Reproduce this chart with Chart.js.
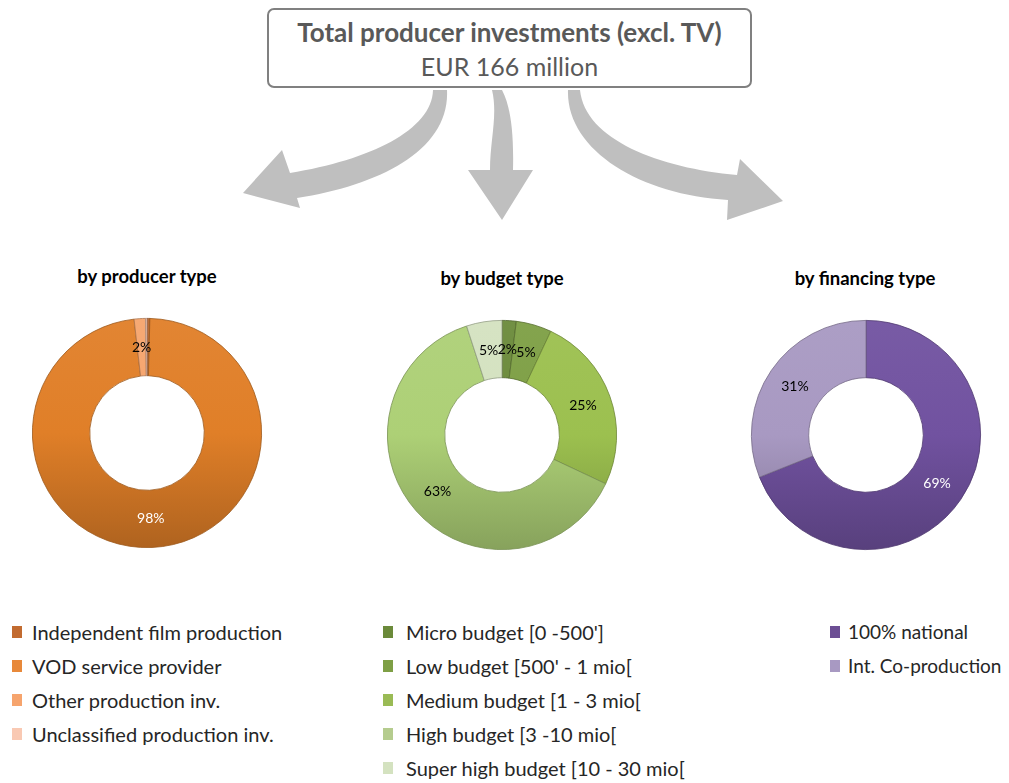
<!DOCTYPE html>
<html><head><meta charset="utf-8">
<script src="https://cdn.jsdelivr.net/npm/chart.js@4.4.0/dist/chart.umd.min.js"></script>
<style>
html,body{margin:0;padding:0;background:#fff;}
body{width:1009px;height:783px;overflow:hidden;position:relative;font-family:Lato,'Open Sans',sans-serif;}
#box{position:absolute;left:267px;top:8px;width:481px;height:76px;border:2px solid #808080;border-radius:7px;text-align:center;color:#595959;}
#box .t1{position:absolute;left:0;right:0;top:7px;font-weight:bold;font-size:26px;line-height:30px;}
#box .t2{position:absolute;left:0;right:0;top:41px;font-size:25px;line-height:30px;}
svg{position:absolute;left:0;top:0;}
canvas{position:absolute;}
.ctitle{position:absolute;width:300px;text-align:center;font-weight:bold;font-size:18.5px;color:#000;line-height:22px;}
.li{position:absolute;white-space:nowrap;font-size:20px;color:#262626;line-height:24px;}
.sw{position:absolute;width:10px;height:12px;}
</style></head><body>
<div id="box"><div class="t1">Total producer investments (excl. TV)</div><div class="t2">EUR 166 million</div></div>
<svg width="1009" height="260">
<path fill="#BFBFBF" d="M 433 90 C 432 130 370 160 290 173 L 282 150 L 243 193 L 300 208 L 297 198 C 380 185 450 150 447 90 Z"/>
<path fill="#BFBFBF" d="M 492 90 C 498 115 490 140 490 170 L 468 170 L 502 220 L 533 170 L 513 170 C 514 130 510 105 502 90 Z"/>
<path fill="#BFBFBF" d="M 568 90 C 566 150 640 195 728 200 L 727 220 L 783 201 L 740 159 L 737 175 C 660 168 585 140 580 90 Z"/>
</svg>
<div class="ctitle" style="left:-3px;top:265px;">by producer type</div>
<div class="ctitle" style="left:352px;top:267px;">by budget type</div>
<div class="ctitle" style="left:715px;top:267px;">by financing type</div>
<canvas id="c1" width="240" height="240" style="left:27px;top:313px;"></canvas>
<canvas id="c2" width="240" height="240" style="left:382px;top:315px;"></canvas>
<canvas id="c3" width="240" height="240" style="left:746px;top:315px;"></canvas>
<div id="legends"></div>
<script>
// ---- data ----
const producerCategories = ['Independent film production', 'VOD service provider', 'Other production inv.', 'Unclassified production inv.'];
const producerValues = [0.4, 97.8, 1.6, 0.2];
const budgetCategories = ["Micro budget [0 -500']", "Low budget [500' - 1 mio[", 'Medium budget [1 - 3 mio[', 'High budget [3 -10 mio[', 'Super high budget [10 - 30 mio['];
const budgetValues = [2, 5, 25, 63, 5];
const financingCategories = ['100% national', 'Int. Co-production'];
const financingValues = [69, 31];

// ---- styles ----
const producerColors = ['#B8642B', '#E07F28', '#F6A46D', '#F9C9B3'];
const budgetColors = ['#6B8A3A', '#7E9F45', '#9CC04F', '#ADD076', '#D4E2C0'];
const financingColors = ['#7152A0', '#A899C2'];
const producerLabelColors = ['#000', '#fff', '#000', '#000'];
const budgetLabelColors = ['#000', '#000', '#000', '#000', '#000'];
const financingLabelColors = ['#fff', '#000'];
const producerLegendColors = ['#C26B30', '#E8893A', '#F6A46D', '#F9C9B3'];
const budgetLegendColors = ['#6B8A3A', '#7E9F45', '#9ABB55', '#B5CC8E', '#D4E2C0'];
const financingLegendColors = ['#6C4E94', '#A899C2'];

function shade(hex, f) {
  const n = parseInt(hex.slice(1), 16);
  let r = n >> 16, g = (n >> 8) & 255, b = n & 255;
  if (f >= 0) { r += (255 - r) * f; g += (255 - g) * f; b += (255 - b) * f; }
  else { r *= 1 + f; g *= 1 + f; b *= 1 + f; }
  return 'rgb(' + Math.round(r) + ',' + Math.round(g) + ',' + Math.round(b) + ')';
}
function gradFor(colors) {
  return (c) => {
    const base = colors[c.dataIndex];
    const { ctx, chartArea } = c.chart;
    if (!chartArea) return base;
    const g = ctx.createLinearGradient(0, chartArea.top, 0, chartArea.bottom);
    g.addColorStop(0, shade(base, 0.05));
    g.addColorStop(0.5, base);
    g.addColorStop(1, shade(base, -0.22));
    return g;
  };
}
const sliceLabels = {
  id: 'sliceLabels',
  afterDatasetsDraw(chart, args, opts) {
    const ctx = chart.ctx;
    const meta = chart.getDatasetMeta(0);
    const vals = chart.data.datasets[0].data;
    const total = vals.reduce((a, b) => a + b, 0);
    ctx.save();
    ctx.font = '14px Lato, sans-serif';
    ctx.textAlign = 'center';
    ctx.textBaseline = 'middle';
    meta.data.forEach((arc, i) => {
      const pct = Math.round(vals[i] / total * 100);
      if (pct < 1) return;
      const p = arc.tooltipPosition();
      ctx.fillStyle = opts.colors[i];
      ctx.fillText(pct + '%', p.x, p.y);
    });
    ctx.restore();
  }
};
function makeChart(id, labels, values, colors, labelColors) {
  return new Chart(document.getElementById(id), {
    type: 'doughnut',
    data: { labels: labels, datasets: [{ data: values, backgroundColor: gradFor(colors), borderColor: colors.map(c => shade(c, -0.3)), borderWidth: 0.8 }] },
    options: {
      responsive: false, animation: false, cutout: '50%',
      layout: { padding: 5 },
      plugins: { legend: { display: false }, tooltip: { enabled: false }, sliceLabels: { colors: labelColors } }
    },
    plugins: [sliceLabels]
  });
}
makeChart('c1', producerCategories, producerValues, producerColors, producerLabelColors);
makeChart('c2', budgetCategories, budgetValues, budgetColors, budgetLabelColors);
makeChart('c3', financingCategories, financingValues, financingColors, financingLabelColors);

// ---- legends ----
function legend(cats, cols, swX, txX, fs) {
  const host = document.getElementById('legends');
  cats.forEach((c, i) => {
    const y = 632 + i * 34;
    const sw = document.createElement('div');
    sw.className = 'sw'; sw.style.left = swX + 'px'; sw.style.top = (y - 6) + 'px'; sw.style.background = cols[i];
    host.appendChild(sw);
    const t = document.createElement('div');
    t.className = 'li'; t.style.left = txX + 'px'; t.style.top = (y - 12) + 'px'; t.textContent = c;
    if (fs) t.style.fontSize = fs + 'px';
    host.appendChild(t);
  });
}
legend(producerCategories, producerLegendColors, 12, 32);
legend(budgetCategories, budgetLegendColors, 383, 406);
legend(financingCategories, financingLegendColors, 830, 848, 19);
</script>
</body></html>
